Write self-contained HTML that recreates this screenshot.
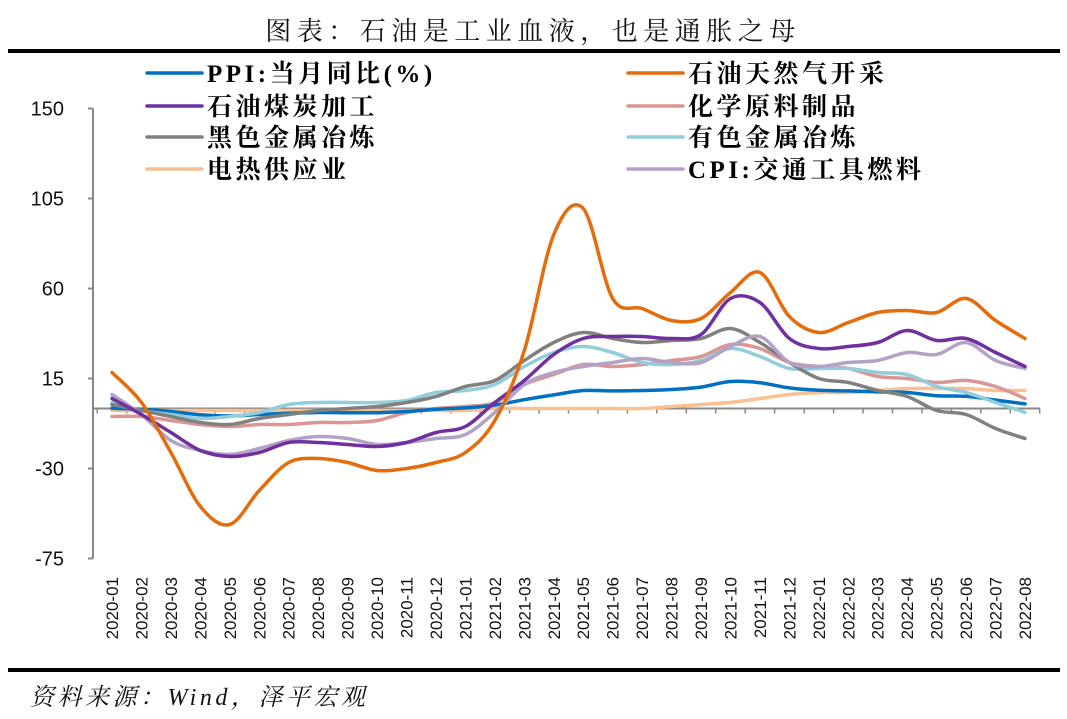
<!DOCTYPE html>
<html><head><meta charset="utf-8"><style>
body{margin:0;background:#fff;width:1067px;height:719px;overflow:hidden}
svg{display:block}
</style></head><body>
<svg id="chart" width="1067" height="719" font-family="'Liberation Serif','Noto Serif CJK SC',serif">
<text x="533" y="40" text-anchor="middle" font-size="26" letter-spacing="5.5" fill="#111">图表：石油是工业血液，也是通胀之母</text>
<rect x="8" y="49" width="1052" height="4" fill="#000"/>
<rect x="8" y="668" width="1052" height="4" fill="#000"/>
<text x="30" y="705" font-size="24" letter-spacing="3.5" font-style="italic" fill="#111">资料来源：Wind，泽平宏观</text>
<g id="axes"></g><g id="series"></g><g id="legend"></g>
</svg>
<script>
const categories=["2020-01","2020-02","2020-03","2020-04","2020-05","2020-06","2020-07","2020-08","2020-09","2020-10","2020-11","2020-12","2021-01","2021-02","2021-03","2021-04","2021-05","2021-06","2021-07","2021-08","2021-09","2021-10","2021-11","2021-12","2022-01","2022-02","2022-03","2022-04","2022-05","2022-06","2022-07","2022-08"];
const yTicks=[150,105,60,15,-30,-75];
const seriesNames=["PPI:当月同比(%)","石油天然气开采","石油煤炭加工","化学原料制品","黑色金属冶炼","有色金属冶炼","电热供应业","CPI:交通工具燃料"];
const seriesColors=["#0070c0","#e46c0a","#7030a0","#da9694","#808080","#92cddc","#fac090","#b3a2c7"];
const ppi=[0.1,-0.4,-1.5,-3.1,-3.7,-3.0,-2.4,-2.0,-2.1,-2.1,-1.5,-0.4,0.3,1.7,4.4,6.8,9.0,8.8,9.0,9.5,10.7,13.5,12.9,10.3,9.1,8.8,8.3,8.0,6.4,6.1,4.2,2.3];
const oilGas=[18,3,-22,-49,-58,-41,-27,-25,-27,-31,-30,-27,-22,-6,29,87,100,55,50,44,45,58,68,46,38,43,48,49,48,55,44,35];
const coalProc=[5,-3,-12,-21,-24,-22,-17,-17,-18,-19,-17,-12,-9,3,14,27,35,36,36,35,37,55,53,35,30,31,33,39,34,35,28,21];
const chemical=[-4,-4,-6,-8,-9,-8,-8,-7,-7,-6,-2,0,1,3,12,17,22,21,22,24,26,32,30,23,21,20,16,15,13,14,11,5];
const ferrous=[2,-1,-4,-7,-8,-5,-3,-1,0,1,3,6,11,14,24,33,38,35,33,34,35,40,33,23,15,13,9,6,-1,-3,-10,-15];
const nonFerrous=[3,-1,-3,-5,-4,-2,2,3,3,3,4,8,9,12,21,28,31,28,23,22,24,30,26,20,20,20,18,17,11,8,3,-2];
const utility=[-1,-1,-1,-1,-1,-1,-1,-1,-1,-1,-1,-1,-1,0,0,0,0,0,0,1,2,3,5,7,8,8,9,10,10,10,9,9];
const cpiFuel=[7,-3,-16,-21,-23,-20,-16,-14,-15,-18,-17,-15,-13,-2,12,18,21,23,25,23,23,31,36,23,21,23,24,28,27,33,24,20];
const seriesData=[ppi,oilGas,coalProc,chemical,ferrous,nonFerrous,utility,cpiFuel];
const drawOrder=[6,3,0,5,4,7,2,1];
const X0=112,DX=(1025-112)/31,Y0=408.5,KY=2;
const xs=i=>X0+i*DX, ys=v=>Y0-v*KY;
const NS="http://www.w3.org/2000/svg";
function mk(tag,attrs,parent){const e=document.createElementNS(NS,tag);for(const k in attrs)e.setAttribute(k,attrs[k]);parent.appendChild(e);return e;}
const ax=document.getElementById('axes');
let yl=mk('line',{x1:93,y1:ys(150),x2:93,y2:ys(-75),stroke:'#888','stroke-width':2},ax);


yTicks.forEach(t=>{
 const tk=mk('line',{x1:88,y1:ys(t),x2:93,y2:ys(t),stroke:'#888','stroke-width':2},ax);
 
 
 const tl=mk('text',{x:64,y:ys(t)+7,'text-anchor':'end','font-size':20,'font-family':"'Liberation Sans',sans-serif",fill:'#111'},ax);
 tl.textContent=t;
 
 
});
let zl=mk('line',{x1:93,y1:Y0,x2:1040,y2:Y0,stroke:'#888','stroke-width':2},ax);


for(let i=0;i<=categories.length;i++){
 const x=X0-DX/2+i*DX;
 const tk=mk('line',{x1:x,y1:Y0,x2:x,y2:Y0+5,stroke:'#888','stroke-width':1.5},ax);
 
 
}
categories.forEach((c,i)=>{
 const x=xs(i)+6;
 const t=mk('text',{x:x,y:577,transform:`rotate(-90 ${x} 577)`,'text-anchor':'end','font-size':17,'font-family':"'Liberation Sans',sans-serif",fill:'#111'},ax);
 t.textContent=c;
 
 
});
function smooth(pts){
 let d=`M${pts[0][0]},${pts[0][1]}`;
 for(let i=0;i<pts.length-1;i++){
  const p0=pts[i-1]||pts[i],p1=pts[i],p2=pts[i+1],p3=pts[i+2]||p2,t=6;
  d+=` C${p1[0]+(p2[0]-p0[0])/t},${p1[1]+(p2[1]-p0[1])/t} ${p2[0]-(p3[0]-p1[0])/t},${p2[1]-(p3[1]-p1[1])/t} ${p2[0]},${p2[1]}`;
 }
 return d;
}
const sg=document.getElementById('series');
drawOrder.forEach(k=>{
 const pts=seriesData[k].map((v,i)=>[xs(i),ys(v)]);
 const p=mk('path',{d:smooth(pts),fill:'none',stroke:seriesColors[k],'stroke-width':3.5,'stroke-linejoin':'round','stroke-linecap':'round'},sg);
 
 
});
const lg=document.getElementById('legend');
const rowsY=[73,106,137,169];
const legendOrder=[0,1,2,3,4,5,6,7];
legendOrder.forEach((k,j)=>{
 const col=j%2,row=Math.floor(j/2);
 const lx=col?628:147, y=rowsY[row];
 const g=mk('g',{},lg);
 
 
 mk('line',{x1:lx,y1:y,x2:lx+55,y2:y,stroke:seriesColors[k],'stroke-width':3.5,'stroke-linecap':'round'},g);
 const t=mk('text',{x:lx+60,y:y+9,'font-size':25,'letter-spacing':3.5,'font-weight':'bold',fill:'#000','font-family':"'Liberation Serif','Noto Serif CJK SC',serif"},g);
 t.textContent=seriesNames[k];
});
</script>
</body></html>
